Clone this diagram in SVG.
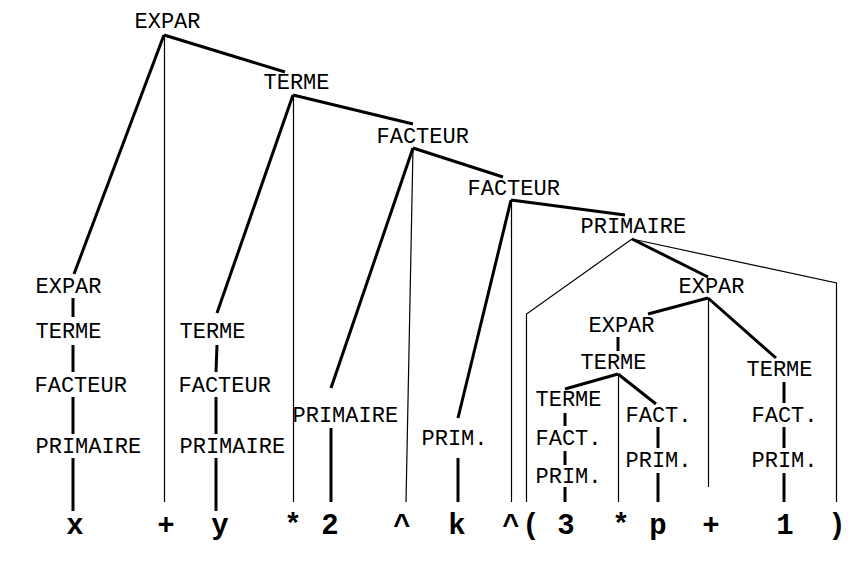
<svg xmlns="http://www.w3.org/2000/svg" width="865" height="567" viewBox="0 0 865 567">
<style>
.l{font-family:"Liberation Mono","Courier New",monospace;font-size:22px;fill:#000}
.t{font-family:"Liberation Mono","Courier New",monospace;font-size:29px;font-weight:bold;fill:#000;text-anchor:middle}
.k{stroke:#000;stroke-width:3;fill:none}
.n{stroke:#000;stroke-width:1.2;fill:none}
</style>
<rect width="865" height="567" fill="#fff"/>
<g id="connectors">
<line class="k" x1="164" y1="35" x2="74" y2="274"/>
<line class="n" x1="164.5" y1="35" x2="164.5" y2="502"/>
<line class="k" x1="164" y1="35" x2="285" y2="72"/>
<line class="k" x1="293" y1="95" x2="217" y2="313"/>
<line class="n" x1="293.5" y1="95" x2="293.5" y2="502"/>
<line class="k" x1="293" y1="95" x2="413" y2="124"/>
<line class="k" x1="413" y1="148" x2="331" y2="388"/>
<line class="n" x1="413" y1="148" x2="406" y2="502"/>
<line class="k" x1="413" y1="148" x2="503" y2="177"/>
<line class="k" x1="511" y1="200" x2="458" y2="418"/>
<line class="n" x1="511.5" y1="200" x2="511.5" y2="502"/>
<line class="k" x1="511" y1="200" x2="625" y2="215"/>
<polyline class="n" points="632,239 526.5,314 526.5,502"/>
<line class="k" x1="632" y1="239" x2="708" y2="277"/>
<polyline class="n" points="632,239 836.5,283 836.5,502"/>
<line class="k" x1="708" y1="298" x2="648" y2="314"/>
<line class="n" x1="708.5" y1="298" x2="708.5" y2="487"/>
<line class="k" x1="708" y1="298" x2="776" y2="358"/>
<line class="k" x1="618" y1="337" x2="618" y2="351"/>
<line class="k" x1="618" y1="374" x2="565" y2="389"/>
<line class="n" x1="618.5" y1="374" x2="618.5" y2="502"/>
<line class="k" x1="618" y1="374" x2="656" y2="404"/>
<line class="k" x1="565" y1="413" x2="565" y2="426"/>
<line class="k" x1="565" y1="451" x2="565" y2="465"/>
<line class="k" x1="565" y1="487" x2="565" y2="502"/>
<line class="k" x1="658" y1="427" x2="658" y2="448"/>
<line class="k" x1="658" y1="473" x2="658" y2="502"/>
<line class="k" x1="784" y1="382" x2="784" y2="403"/>
<line class="k" x1="784" y1="427" x2="784" y2="448"/>
<line class="k" x1="784" y1="473" x2="784" y2="502"/>
<line class="k" x1="73" y1="298" x2="73" y2="317"/>
<line class="k" x1="73" y1="345" x2="73" y2="372"/>
<line class="k" x1="73" y1="397" x2="73" y2="434"/>
<line class="k" x1="73" y1="458" x2="73" y2="511"/>
<line class="k" x1="217" y1="345" x2="216" y2="372"/>
<line class="k" x1="216" y1="397" x2="216" y2="434"/>
<line class="k" x1="216" y1="458" x2="216" y2="511"/>
<line class="k" x1="331" y1="428" x2="331" y2="502"/>
<line class="k" x1="458" y1="458" x2="458" y2="502"/>
</g>
<g id="n-expar-top"><text class="l" x="134.5" y="28">EXPAR</text></g>
<g id="n-terme-1"><text class="l" x="263.5" y="89">TERME</text></g>
<g id="n-facteur-1"><text class="l" x="376.5" y="143">FACTEUR</text></g>
<g id="n-facteur-2"><text class="l" x="467.5" y="195">FACTEUR</text></g>
<g id="n-primaire-par"><text class="l" x="580.5" y="233">PRIMAIRE</text></g>
<g id="n-expar-in"><text class="l" x="678.5" y="293">EXPAR</text></g>
<g id="n-expar-in2"><text class="l" x="588.5" y="332">EXPAR</text></g>
<g id="n-terme-in"><text class="l" x="580.5" y="369">TERME</text></g>
<g id="n-terme-3"><text class="l" x="535.5" y="406">TERME</text></g>
<g id="n-fact-3"><text class="l" x="535.5" y="445">FACT.</text></g>
<g id="n-prim-3"><text class="l" x="535.5" y="483">PRIM.</text></g>
<g id="n-fact-p"><text class="l" x="625.5" y="422">FACT.</text></g>
<g id="n-prim-p"><text class="l" x="625.5" y="467">PRIM.</text></g>
<g id="n-terme-1b"><text class="l" x="746.5" y="376">TERME</text></g>
<g id="n-fact-1b"><text class="l" x="751.5" y="422">FACT.</text></g>
<g id="n-prim-1b"><text class="l" x="751.5" y="467">PRIM.</text></g>
<g id="n-expar-x"><text class="l" x="35.5" y="293">EXPAR</text></g>
<g id="n-terme-x"><text class="l" x="35.5" y="338">TERME</text></g>
<g id="n-facteur-x"><text class="l" x="34.5" y="392">FACTEUR</text></g>
<g id="n-primaire-x"><text class="l" x="35.5" y="453">PRIMAIRE</text></g>
<g id="n-terme-y"><text class="l" x="179.5" y="338">TERME</text></g>
<g id="n-facteur-y"><text class="l" x="178.5" y="392">FACTEUR</text></g>
<g id="n-primaire-y"><text class="l" x="179.5" y="453">PRIMAIRE</text></g>
<g id="n-primaire-2"><text class="l" x="292.5" y="422">PRIMAIRE</text></g>
<g id="n-prim-k"><text class="l" x="421.5" y="445">PRIM.</text></g>
<g id="tokens">
<text class="t" x="75" y="534">x</text>
<text class="t" x="166" y="534">+</text>
<text class="t" x="220" y="534">y</text>
<text class="t" x="293" y="534">*</text>
<text class="t" x="330" y="534">2</text>
<text class="t" x="402" y="534">^</text>
<text class="t" x="457" y="534">k</text>
<text class="t" x="511" y="534">^</text>
<text class="t" x="531" y="534">(</text>
<text class="t" x="566" y="534">3</text>
<text class="t" x="621" y="534">*</text>
<text class="t" x="658" y="534">p</text>
<text class="t" x="711" y="534">+</text>
<text class="t" x="785" y="534">1</text>
<text class="t" x="837" y="534">)</text>
</g>
</svg>
